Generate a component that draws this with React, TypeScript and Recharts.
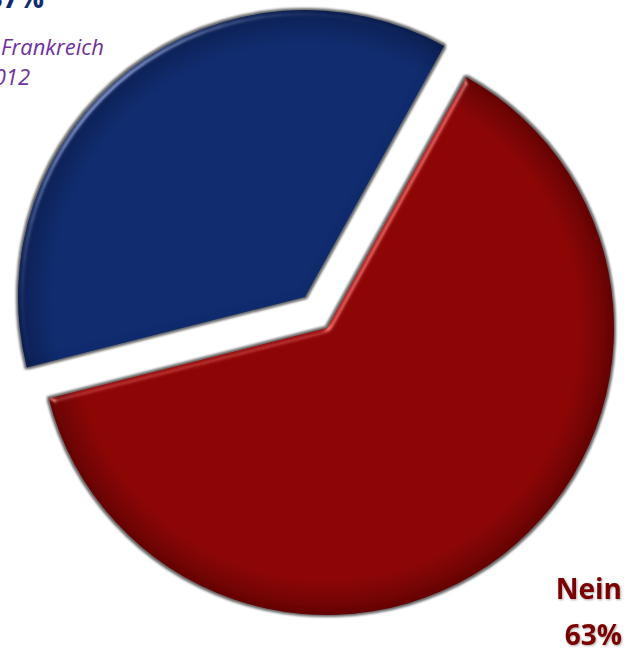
import { PieChart, Pie, Cell } from 'recharts'

const answers = ['Nein', 'Ja']
const shares = [63, 37]
const sliceColors = ['#8a0404', '#0f2b6e']
const edgeColors = ['#650202', '#0a1d50']
const gradIds = ['gradRed', 'gradBlue']

const data = answers.map((name, i) => ({ name, value: shares[i] }))

// each slice is drawn by its own pie so the "Ja" slice can be pulled out
const pieCenters = [
  { cx: 327, cy: 328 },
  { cx: 305, cy: 297 },
]
const RADIUS = 287

export default function App() {
  return (
    <div style={{ width: 624, height: 651, position: 'relative', overflow: 'hidden', background: '#fff' }}>
      <style>{'body{margin:0}'}</style>
      <PieChart width={624} height={651} margin={{ top: 0, right: 0, bottom: 0, left: 0 }}>
        <defs>
          {pieCenters.map((c, i) => (
            <radialGradient key={i} id={gradIds[i]} gradientUnits="userSpaceOnUse" cx={c.cx} cy={c.cy} r={RADIUS}>
              <stop offset="0%" stopColor={sliceColors[i]} />
              <stop offset="88%" stopColor={sliceColors[i]} />
              <stop offset="100%" stopColor={edgeColors[i]} />
            </radialGradient>
          ))}
          <filter id="bevel" colorInterpolationFilters="sRGB" x="-5%" y="-5%" width="110%" height="110%">
            <feGaussianBlur in="SourceAlpha" stdDeviation="3" result="blur" />
            <feSpecularLighting in="blur" surfaceScale="4" specularConstant="1" specularExponent="25" lightingColor="#ffffff" result="spec">
              <feDistantLight azimuth="225" elevation="25" />
            </feSpecularLighting>
            <feComposite in="spec" in2="SourceAlpha" operator="in" result="specIn" />
            <feComposite in="SourceGraphic" in2="specIn" operator="arithmetic" k1="0" k2="1" k3="0.4" k4="0" result="lit" />
            <feMorphology in="SourceAlpha" operator="dilate" radius="2" result="dil" />
            <feGaussianBlur in="dil" stdDeviation="1.2" result="shBlur" />
            <feFlood floodColor="#6a6a6a" result="shCol" />
            <feComposite in="shCol" in2="shBlur" operator="in" result="shadow" />
            <feMerge>
              <feMergeNode in="shadow" />
              <feMergeNode in="lit" />
            </feMerge>
          </filter>
          <filter id="txtShadow" x="-20%" y="-20%" width="140%" height="140%">
            <feDropShadow dx="1" dy="1" stdDeviation="1" floodColor="#000" floodOpacity="0.35" />
          </filter>
        </defs>

        {pieCenters.map((c, pi) => (
          <Pie
            key={pi}
            data={data}
            dataKey="value"
            nameKey="name"
            cx={c.cx}
            cy={c.cy}
            outerRadius={RADIUS}
            startAngle={61}
            endAngle={-299}
            stroke="none"
            isAnimationActive={false}
          >
            {data.map((_, i) => (
              <Cell
                key={i}
                fill={i === pi ? `url(#${gradIds[i]})` : 'none'}
                stroke="none"
                filter={i === pi ? 'url(#bevel)' : undefined}
              />
            ))}
          </Pie>
        ))}

        <text x={44} y={8} textAnchor="end" fontFamily="'Open Sans', sans-serif" fontWeight="bold" fontSize={28} fill="#0f2b6e">
          {answers[1]} {shares[1]}%
        </text>
        <text x={1} y={55} textAnchor="start" fontFamily="'Open Sans', sans-serif" fontStyle="italic" fontSize={22} fill="#7030a0">
          Frankreich
        </text>
        <text x={30} y={85} textAnchor="end" fontFamily="'Open Sans', sans-serif" fontStyle="italic" fontSize={22} fill="#7030a0">
          2012
        </text>
        <text x={622} y={599} textAnchor="end" fontFamily="'Open Sans', sans-serif" fontWeight="bold" fontSize={28} fill="#7a0000" filter="url(#txtShadow)">
          {answers[0]}
        </text>
        <text x={622} y={645} textAnchor="end" fontFamily="'Open Sans', sans-serif" fontWeight="bold" fontSize={28} fill="#7a0000" filter="url(#txtShadow)">
          {shares[0]}%
        </text>
      </PieChart>
    </div>
  )
}
